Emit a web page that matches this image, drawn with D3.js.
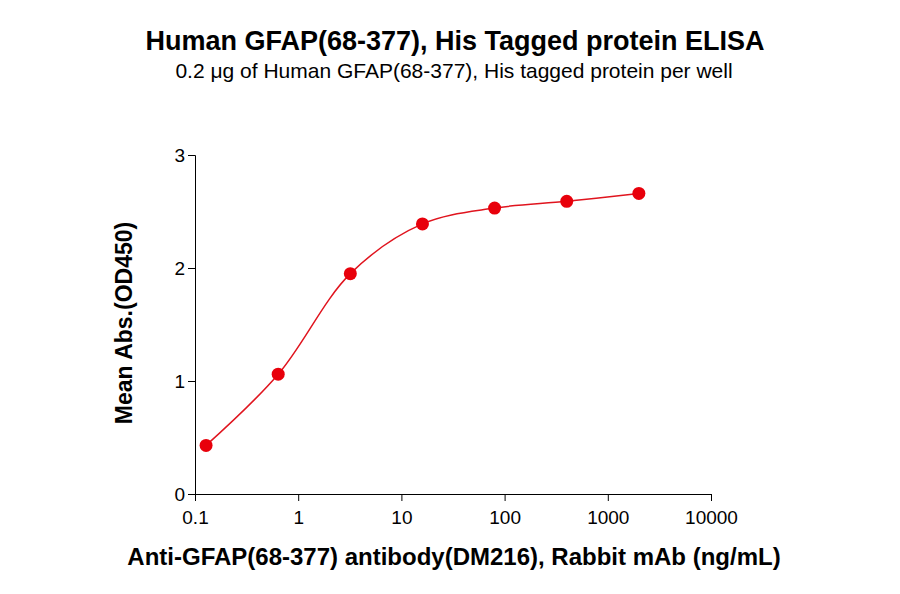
<!DOCTYPE html><html><head><script src="https://cdn.jsdelivr.net/npm/d3@7"></script>
<style>body{margin:0;background:#fff}text{font-family:Arial,"Liberation Sans",sans-serif}</style></head><body>
<svg id="c" width="900" height="594"></svg>
<script>
const conc=[0.128,0.64,3.2,16,80,400,2000];
const od=[0.43,1.06,1.95,2.39,2.53,2.59,2.66];
const xTicks=[0.1,1,10,100,1000,10000];
const yTicks=[0,1,2,3];
const svg=d3.select("#c");
const x=d3.scaleLog().domain([0.1,10000]).range([195,711]);
const y=d3.scaleLinear().domain([0,3]).range([494,155]);
svg.append("g").attr("transform","translate(0,494)").call(d3.axisBottom(x).tickValues(xTicks).tickFormat(d=>String(d)).tickSizeOuter(0).tickSize(7))
 .call(g=>{g.selectAll("text").attr("font-size",19).attr("dy","1.05em");g.selectAll("path,line").attr("stroke","#000")});
svg.append("g").attr("transform","translate(195,0)").call(d3.axisLeft(y).tickValues(yTicks).tickFormat(d3.format("d")).tickSizeOuter(0).tickSize(7))
 .call(g=>{g.selectAll("text").attr("font-size",19);g.selectAll("path,line").attr("stroke","#000")});
const pts=conc.map((c,i)=>[c,od[i]]);
svg.append("path").datum(pts).attr("fill","none").attr("stroke","#e0141e").attr("stroke-width",1.5)
 .attr("d",d3.line().x(d=>x(d[0])).y(d=>y(d[1])).curve(d3.curveCatmullRom.alpha(0.5)));
svg.selectAll("circle").data(pts).join("circle").attr("cx",d=>x(d[0])).attr("cy",d=>y(d[1])).attr("r",6.5).attr("fill","#e8000b");
svg.append("text").attr("x",455).attr("y",50).attr("text-anchor","middle").attr("font-size",27).attr("font-weight","bold").text("Human GFAP(68-377), His Tagged protein ELISA");
svg.append("text").attr("x",454).attr("y",78).attr("text-anchor","middle").attr("font-size",21).text("0.2 μg of Human GFAP(68-377), His tagged protein per well");
svg.append("text").attr("x",454).attr("y",565).attr("text-anchor","middle").attr("font-size",24).attr("font-weight","bold").text("Anti-GFAP(68-377) antibody(DM216), Rabbit mAb (ng/mL)");
svg.append("text").attr("transform","translate(132,323) rotate(-90)").attr("text-anchor","middle").attr("font-size",23).attr("font-weight","bold").text("Mean Abs.(OD450)");
</script></body></html>
